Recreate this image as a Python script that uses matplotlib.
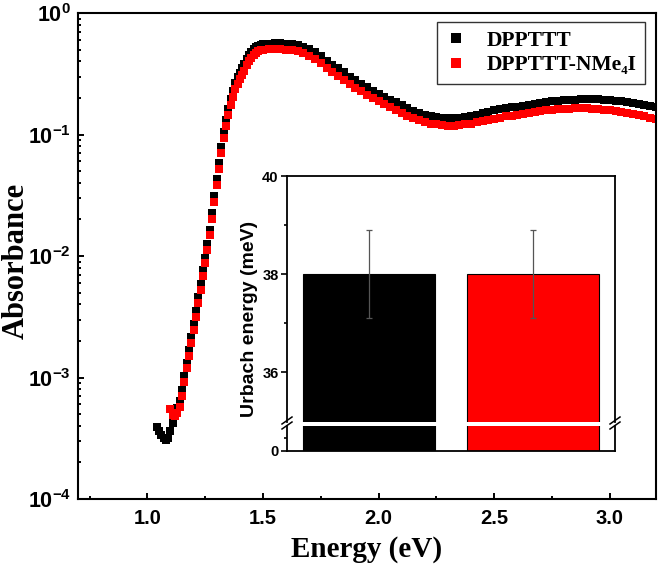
import numpy as np
import matplotlib
matplotlib.use('Agg')
import matplotlib.pyplot as plt
from matplotlib.ticker import FixedLocator, FuncFormatter, MultipleLocator, NullFormatter
from matplotlib.lines import Line2D

plt.rcParams['mathtext.fontset'] = 'custom'
plt.rcParams['mathtext.bf'] = 'Liberation Sans:bold'
plt.rcParams['mathtext.rm'] = 'Liberation Sans:bold'

# --- absorbance spectra ---
edge_energy = np.round(np.arange(1.04, 1.495, 0.01), 3)     # 1.04 .. 1.49
band_energy = np.round(np.arange(1.50, 3.2001, 0.025), 3)   # 1.50 .. 3.20

black_edge = [3.9e-4, 3.6e-4, 3.35e-4, 3.15e-4, 3.05e-4, 3.2e-4, 3.6e-4, 4.2e-4,
              5.0e-4, 5.6e-4, 6.4e-4, 7.9e-4, 1.02e-3, 1.32e-3, 1.68e-3, 2.15e-3,
              2.75e-3, 3.5e-3, 4.6e-3, 5.9e-3, 7.6e-3, 9.7e-3, 1.25e-2, 1.65e-2,
              2.25e-2, 3.1e-2, 4.3e-2, 5.8e-2, 7.9e-2, 0.104, 0.132, 0.162,
              0.195, 0.23, 0.265, 0.295, 0.32, 0.35, 0.38, 0.415, 0.45, 0.48,
              0.505, 0.525, 0.54, 0.55]
black_band = [0.556, 0.560, 0.562, 0.562, 0.560, 0.555, 0.545, 0.530, 0.505, 0.475,
              0.440, 0.405, 0.375, 0.350, 0.325, 0.300, 0.280, 0.262, 0.245, 0.230,
              0.216, 0.204, 0.194, 0.185, 0.174, 0.165, 0.157, 0.151, 0.146, 0.142,
              0.140, 0.138, 0.137, 0.137, 0.138, 0.140, 0.143, 0.146, 0.150, 0.154,
              0.158, 0.161, 0.164, 0.167, 0.170, 0.173, 0.176, 0.179, 0.182, 0.185,
              0.187, 0.189, 0.191, 0.193, 0.194, 0.195, 0.196, 0.196, 0.195, 0.194,
              0.192, 0.190, 0.188, 0.185, 0.182, 0.179, 0.176, 0.173, 0.170]

red_edge = [5.5e-4, 4.9e-4, 4.8e-4, 5.1e-4, 5.7e-4, 7.1e-4, 9.2e-4, 1.19e-3,
            1.51e-3, 1.93e-3, 2.48e-3, 3.15e-3, 4.1e-3, 5.3e-3, 6.8e-3, 8.7e-3,
            1.12e-2, 1.48e-2, 2.0e-2, 2.8e-2, 3.85e-2, 5.2e-2, 7.1e-2, 0.093,
            0.118, 0.145, 0.174, 0.205, 0.236, 0.262, 0.285, 0.31, 0.335, 0.37,
            0.40, 0.43, 0.455, 0.472, 0.485, 0.495]
red_band = [0.497, 0.502, 0.503, 0.502, 0.500, 0.494, 0.484, 0.468, 0.445, 0.417,
            0.385, 0.354, 0.327, 0.304, 0.283, 0.261, 0.243, 0.228, 0.213, 0.200,
            0.188, 0.177, 0.168, 0.160, 0.151, 0.143, 0.136, 0.131, 0.126, 0.123,
            0.121, 0.119, 0.118, 0.118, 0.119, 0.121, 0.123, 0.126, 0.129, 0.132,
            0.135, 0.138, 0.141, 0.143, 0.146, 0.148, 0.151, 0.153, 0.156, 0.158,
            0.160, 0.161, 0.162, 0.163, 0.164, 0.164, 0.164, 0.163, 0.162, 0.160,
            0.158, 0.156, 0.153, 0.150, 0.147, 0.144, 0.141, 0.138, 0.135]

black_energy = np.concatenate([edge_energy, band_energy])
red_energy = np.concatenate([edge_energy[6:], band_energy])
black_abs = np.array(black_edge + black_band)
red_abs = np.array(red_edge + red_band)

series_names = ['DPPTTT', 'DPPTTT-NMe\u2084I']
series_colors = ['#000000', '#ff0000']

# --- Urbach energy inset ---
urbach_vals = [38.0, 38.0]
urbach_err = [0.9, 0.9]

W, H = 660, 567
fig = plt.figure(figsize=(W / 100, H / 100), dpi=100)


def fx(px):
    return px / W


def fy(py):
    return 1 - py / H


ax = fig.add_axes([fx(78), fy(499), fx(656) - fx(78), fy(13) - fy(499)])
ax.plot(black_energy, black_abs, 's', color=series_colors[0], ms=6, mew=0)
ax.plot(red_energy, red_abs, 's', color=series_colors[1], ms=6, mew=0)
ax.set_yscale('log')
ax.set_xlim(0.7, 3.2)
ax.set_ylim(1e-4, 1)
ax.xaxis.set_major_locator(MultipleLocator(0.5))
ax.xaxis.set_minor_locator(MultipleLocator(0.25))
ax.yaxis.set_major_locator(FixedLocator([1e-4, 1e-3, 1e-2, 1e-1, 1]))
ax.yaxis.set_major_formatter(FuncFormatter(lambda v, p: r'$\mathbf{10^{%d}}$' % round(np.log10(v))))
ax.yaxis.set_minor_formatter(NullFormatter())
ax.tick_params(which='both', direction='in', width=1.4)
ax.tick_params(axis='x', labelsize=14.5, pad=7)
ax.tick_params(axis='y', labelsize=15.5, pad=5)
ax.tick_params(which='major', length=4.5)
ax.tick_params(which='minor', length=2.5)
for lab in ax.get_xticklabels():
    lab.set_fontfamily('Liberation Sans')
    lab.set_fontweight('bold')
for s in ax.spines.values():
    s.set_linewidth(1.5)
ax.set_xlabel('Energy (eV)', fontfamily='Liberation Serif', fontweight='bold', fontsize=21, labelpad=6)
ax.set_ylabel('Absorbance', fontfamily='Liberation Serif', fontweight='bold', fontsize=22)
ax.yaxis.set_label_coords((31 - 78) / 578, 0.49)

handles = [Line2D([], [], ls='none', marker='s', ms=7, mew=0, color=c) for c in series_colors]
leg = ax.legend(handles, series_names, loc='upper right', bbox_to_anchor=(fx(645), fy(22)),
                bbox_transform=fig.transFigure, borderaxespad=0, frameon=True, fancybox=False,
                edgecolor='black', handlelength=1.0, handletextpad=0.9, borderpad=0.4,
                labelspacing=0.2, prop={'family': ['Liberation Serif', 'DejaVu Serif'],
                                        'weight': 'bold', 'size': 15.5})
leg.get_frame().set_linewidth(1.0)

# inset: broken y axis made of two stacked axes
ix0, ix1 = fx(287), fx(615)
ax_top = fig.add_axes([ix0, fy(421.5), ix1 - ix0, fy(176) - fy(421.5)])
ax_bot = fig.add_axes([ix0, fy(451), ix1 - ix0, fy(425.5) - fy(451)])
xpos = np.arange(len(urbach_vals))
for a in (ax_top, ax_bot):
    a.bar(xpos, urbach_vals, width=0.81, color=series_colors, edgecolor='black', linewidth=0.8)
    a.set_xlim(-0.505, 1.505)
    a.set_xticks([])
    a.tick_params(which='both', direction='out', width=1.2, labelsize=10.5, pad=2)
    a.tick_params(which='major', length=4)
    a.tick_params(which='minor', length=2.5)
    for s in a.spines.values():
        s.set_linewidth(1.3)
ax_top.errorbar(xpos, urbach_vals, yerr=urbach_err, fmt='none', ecolor='#555555',
                elinewidth=0.9, capsize=2.5, capthick=0.9)
ax_top.set_ylim(35, 40)
ax_top.set_yticks([36, 38, 40])
ax_top.set_yticks([37, 39], minor=True)
ax_top.spines['bottom'].set_visible(False)
ax_bot.set_ylim(0, 2)
ax_bot.set_yticks([0])
ax_bot.set_yticks([1], minor=True)
ax_bot.spines['top'].set_visible(False)
for a in (ax_top, ax_bot):
    for lab in a.get_yticklabels():
        lab.set_fontfamily('Liberation Sans')
        lab.set_fontweight('bold')
fig.text(fx(250), fy(319), 'Urbach energy (meV)', rotation=90, ha='center', va='center',
         fontfamily='Liberation Sans', fontweight='bold', fontsize=14)

# break marks
for bx in (287, 615):
    for dy in (0, 5):
        fig.add_artist(Line2D([fx(bx - 5), fx(bx + 5)], [fy(424 + dy), fy(417 + dy)],
                              color='black', lw=1.1, transform=fig.transFigure))

fig.savefig('out.png', dpi=100)
